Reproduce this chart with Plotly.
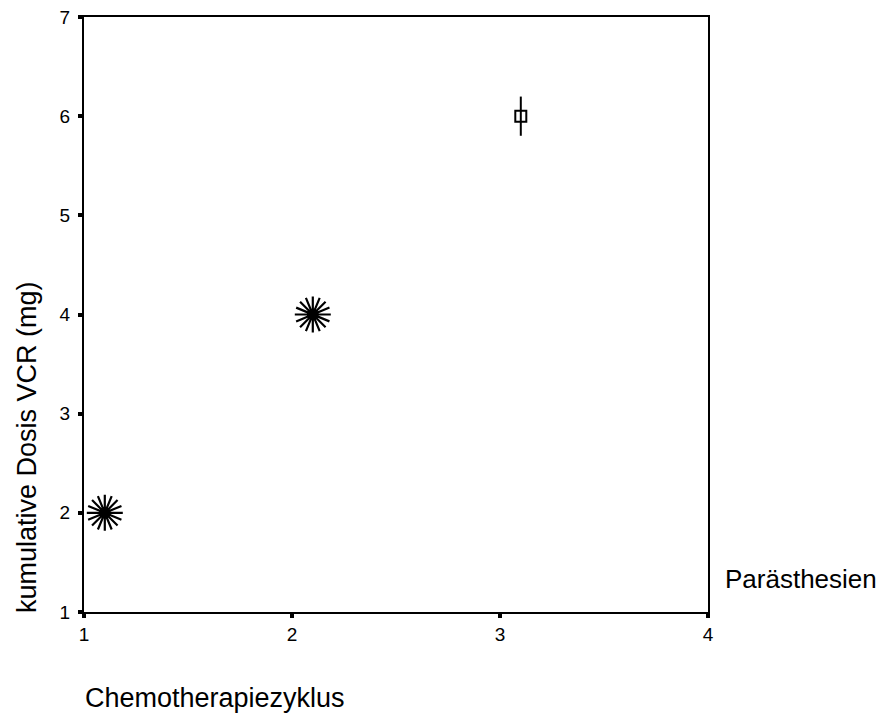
import plotly.graph_objects as go

# Data
star_x = [1.1, 2.1]
star_y = [2, 4]
phi_x = [3.1]
phi_y = [6]
x_ticks = [1, 2, 3, 4]
y_ticks = [1, 2, 3, 4, 5, 6, 7]
x_title = "Chemotherapiezyklus"
y_title = "kumulative Dosis VCR (mg)"
legend_title = "Parästhesien"

FONT = "Liberation Sans, Arial, sans-serif"

fig = go.Figure()
# sunflower-like markers (overlapping cases)
for ang in [0, 22.5]:
    fig.add_trace(go.Scatter(x=star_x, y=star_y, mode="markers", showlegend=False,
                             hoverinfo="skip",
                             marker=dict(symbol="asterisk-open", size=30, angle=ang,
                                         color="black",
                                         line=dict(color="black", width=2.2))))
fig.add_trace(go.Scatter(x=star_x, y=star_y, mode="markers", showlegend=False,
                         hoverinfo="skip",
                         marker=dict(symbol="circle", size=12, color="black")))
# circle with vertical line marker
fig.add_trace(go.Scatter(x=phi_x, y=phi_y, mode="markers", showlegend=False,
                         hoverinfo="skip",
                         marker=dict(symbol="line-ns-open", size=28, color="black",
                                     line=dict(color="black", width=2))))
fig.add_trace(go.Scatter(x=phi_x, y=phi_y, mode="markers", showlegend=False,
                         hoverinfo="skip",
                         marker=dict(symbol="square-open", size=11, color="black",
                                     line=dict(color="black", width=2))))

axis_common = dict(showgrid=False, zeroline=False, showline=True, linecolor="black",
                   linewidth=2, mirror=True, ticks="outside", ticklen=4, tickwidth=4,
                   tickcolor="black", automargin=False, ticklabeloverflow="allow",
                   tickfont=dict(family=FONT, size=19, color="black"))

# the page body adds an 8px offset, so the figure is sized to end at the window edge
fig.update_layout(
    width=881, height=707,
    margin=dict(l=76, r=181, t=9, b=103),
    plot_bgcolor="white", paper_bgcolor="white",
    xaxis=dict(range=[1, 4], tickvals=x_ticks, ticktext=[str(v) for v in x_ticks],
               ticklabelstandoff=0, **axis_common),
    yaxis=dict(range=[1, 7], tickvals=y_ticks, ticktext=[str(v) for v in y_ticks],
               ticklabelstandoff=4, **axis_common),
    annotations=[
        dict(text=x_title, xref="paper", yref="paper", x=(83 - 84) / 624,
             y=(612 - 698) / 595, xanchor="left", yanchor="middle", showarrow=False,
             font=dict(family=FONT, size=27, color="black")),
        dict(text=y_title, xref="paper", yref="paper", x=(27 - 84) / 624,
             y=(612 - 447) / 595, xanchor="center", yanchor="middle", showarrow=False,
             textangle=-90, font=dict(family=FONT, size=27, color="black")),
        dict(text=legend_title, xref="paper", yref="paper", x=(723 - 84) / 624,
             y=(612 - 579) / 595, xanchor="left", yanchor="middle", showarrow=False,
             font=dict(family=FONT, size=26, color="black")),
    ],
)

fig.write_html("out.html")
